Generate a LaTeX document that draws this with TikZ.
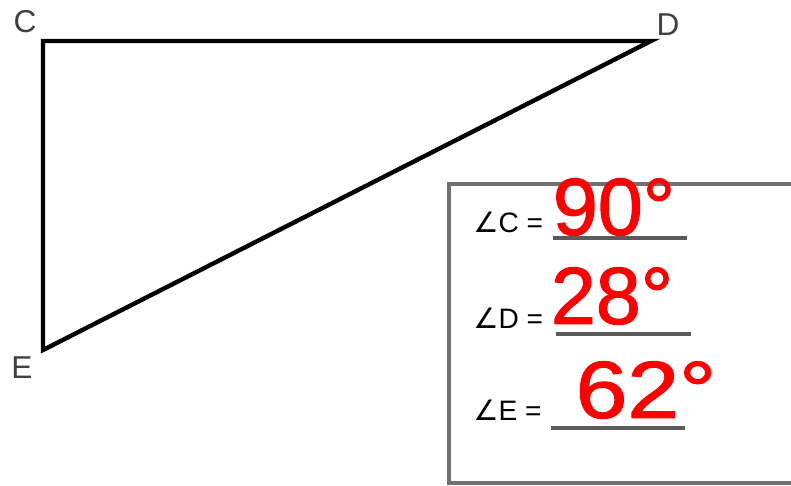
\documentclass[tikz,border=0pt]{standalone}
\usepackage{fontspec}
\setmainfont{Liberation Sans}
\newfontfamily\symbfont{DejaVu Sans}
\usetikzlibrary{positioning}
\definecolor{boxGray}{HTML}{707070}
\definecolor{blankGray}{HTML}{5A5A5A}
\definecolor{inkRed}{HTML}{FF0000}

\begin{document}
\begin{tikzpicture}[x=0.02cm,y=-0.02cm,
    vertex label/.style={font=\fontsize{18}{18}\selectfont,text=black!75,inner sep=0pt},
    angle label/.style={font=\fontsize{16}{16}\selectfont,anchor=base west,inner sep=0pt},
    answer/.style={font=\fontsize{46}{46}\selectfont\addfontfeature{FakeBold=1.5},text=inkRed,inner sep=0pt},
    blank/.style={draw=blankGray,line width=2pt}]
  \useasboundingbox (0,0) rectangle (791,485);
  % triangle
  \coordinate (C) at (43,41);
  \coordinate (D) at (651,41);
  \coordinate (E) at (43,350);
  \draw[line width=2.5pt] (C) -- (D) -- (E) -- cycle;
  \node[vertex label] (lblC) at (25,22) {C};
  \node[vertex label] (lblD) at (668,25) {D};
  \node[vertex label] (lblE) at (22,368) {E};
  % answer box
  \draw[boxGray,line width=2.6pt] (791,184) -| (449,483) -- (791,483);
  \node[angle label] (qC) at (473,232) {{\symbfont ∠}C =};
  \node[angle label] (qD) at (473,328) {{\symbfont ∠}D =};
  \node[angle label] (qE) at (473,420) {{\symbfont ∠}E =};
  \draw[blank] (553,238) -- (687,238);
  \draw[blank] (556,334) -- (691,334);
  \draw[blank] (551,428) -- (685,428);
  \node[answer] (aC) at (614,207) {90°};
  \node[answer] (aD) at (612,296) {28°};
  \node[answer,xscale=1.15] (aE) at (646,390) {62°};
\end{tikzpicture}
\end{document}
